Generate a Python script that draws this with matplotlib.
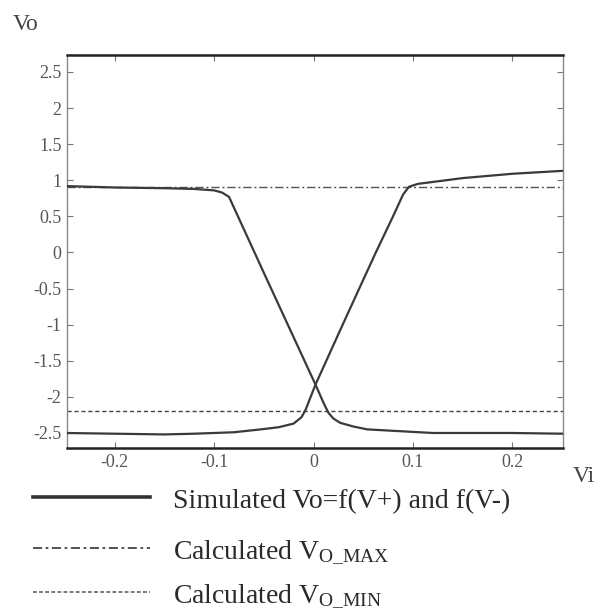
import matplotlib
matplotlib.use("Agg")
import matplotlib.pyplot as plt
from matplotlib.lines import Line2D

plt.rcParams['font.family'] = ['Liberation Serif', 'DejaVu Serif']
plt.rcParams['mathtext.default'] = 'regular'
plt.rcParams['axes.unicode_minus'] = False

# ---- data ----
vi_plus = [-0.25, -0.20, -0.15, -0.12, -0.08, -0.053, -0.035, -0.02, -0.012, -0.008,
           0.002, 0.03, 0.054, 0.062, 0.08, 0.09, 0.096, 0.105, 0.15, 0.20, 0.25]
vo_plus = [-2.50, -2.51, -2.52, -2.51, -2.49, -2.45, -2.42, -2.37, -2.28, -2.18,
           -1.83, -0.98, -0.26, -0.02, 0.50, 0.80, 0.91, 0.95, 1.03, 1.09, 1.13]

vi_minus = [-0.25, -0.20, -0.15, -0.12, -0.10, -0.092, -0.085, -0.058, -0.048, 0.002,
            0.010, 0.015, 0.020, 0.027, 0.040, 0.054, 0.080, 0.120, 0.20, 0.25]
vo_minus = [0.92, 0.90, 0.89, 0.88, 0.86, 0.83, 0.77, -0.04, -0.34, -1.83,
            -2.08, -2.22, -2.30, -2.36, -2.41, -2.45, -2.47, -2.50, -2.50, -2.51]

vo_max = 0.9
vo_min = -2.2

x_ticks = [-0.2, -0.1, 0, 0.1, 0.2]
x_tick_labels = ["-0.2", "-0.1", "0", "0.1", "0.2"]
y_ticks = [2.5, 2, 1.5, 1, 0.5, 0, -0.5, -1, -1.5, -2, -2.5]
y_tick_labels = ["2.5", "2", "1.5", "1", "0.5", "0", "-0.5", "-1", "-1.5", "-2", "-2.5"]

legend_labels = ["Simulated Vo=f(V+) and f(V-)",
                 r"Calculated V$_{O\_MAX}$",
                 r"Calculated V$_{O\_MIN}$"]

W, H = 599, 613
fig = plt.figure(figsize=(W / 100, H / 100), dpi=100)
ax = fig.add_axes([67 / W, 1 - 448 / H, (563 - 67) / W, (448 - 55) / H])

curve_color = '#3a3a3a'
ax.plot(vi_plus, vo_plus, color=curve_color, lw=1.6, zorder=3)
ax.plot(vi_minus, vo_minus, color=curve_color, lw=1.6, zorder=3)
ax.axhline(vo_max, color='#555555', lw=1.0, ls=(0, (6, 2, 1.5, 2)), zorder=2)
ax.axhline(vo_min, color='#444444', lw=1.0, ls=(0, (3, 2)), zorder=2)

ax.set_xlim(-0.248, 0.251)
ax.set_ylim(-2.708, 2.735)
ax.set_xticks(x_ticks)
ax.set_xticklabels(x_tick_labels)
ax.set_yticks(y_ticks)
ax.set_yticklabels(y_tick_labels)
ax.tick_params(direction='in', top=True, right=True, length=4, width=0.8,
               color='#777777', labelsize=13, labelcolor='#555555', pad=4)
for side in ['top', 'bottom']:
    ax.spines[side].set_linewidth(1.8)
    ax.spines[side].set_color('#222222')
for side in ['left', 'right']:
    ax.spines[side].set_linewidth(1.0)
    ax.spines[side].set_color('#888888')

fig.text(13 / W, 1 - 24 / H, "Vo", fontsize=17, color='#444444', va='center', ha='left')
fig.text(573 / W, 1 - 477 / H, "Vi", fontsize=17, color='#444444', va='center', ha='left')

# legend (drawn manually below the axes)
styles = [dict(color='#333333', lw=2.6, ls='-'),
          dict(color='#444444', lw=1.3, ls=(0, (5, 2, 1.5, 2))),
          dict(color='#555555', lw=1.1, ls=(0, (2.5, 1.5)))]
line_y = [497, 548, 592]
text_base = [508, 558, 602]
for st, ly, tb, lab in zip(styles, line_y, text_base, legend_labels):
    fig.add_artist(Line2D([33 / W, 150 / W], [1 - ly / H, 1 - ly / H],
                          transform=fig.transFigure, **st))
    fig.text(173 / W, 1 - tb / H, lab, fontsize=20, color='#2a2a2a',
             va='baseline', ha='left')

fig.savefig("out.png", dpi=100)
